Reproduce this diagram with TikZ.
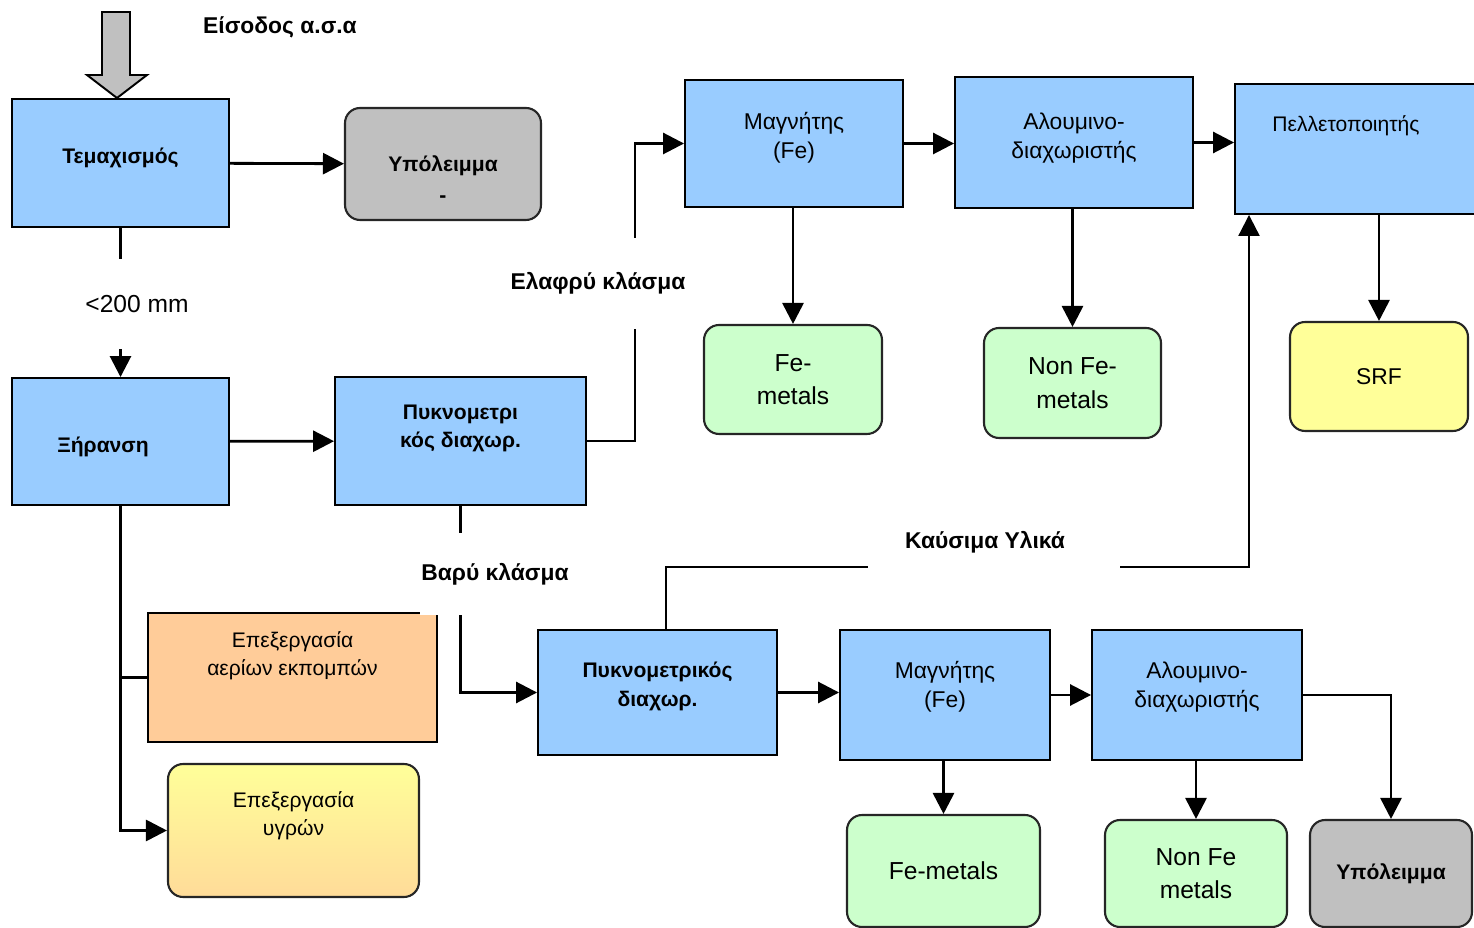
\documentclass[tikz,border=0pt]{standalone}
\usepackage{fontspec}
\setmainfont{Liberation Sans}
\usetikzlibrary{arrows.meta}

\definecolor{procblue}{HTML}{99CCFF}
\definecolor{restgray}{HTML}{C0C0C0}
\definecolor{metalgreen}{HTML}{CCFFCC}
\definecolor{srfyellow}{HTML}{FFFF99}
\definecolor{gasorange}{HTML}{FFCC99}

\begin{document}
\begin{tikzpicture}[x=0.02cm, y=-0.02cm,
	procbox/.style={rectangle, draw=black, line width=1.1pt, fill=procblue, align=center, font=\fontsize{13}{16.5}\selectfont},
	endbox/.style={rectangle, rounded corners=0.3cm, draw=black!85, line width=1.2pt, align=center, font=\fontsize{14}{19}\selectfont},
	flow/.style={line width=1.6pt, -{Triangle[length=0.42cm, width=0.42cm]}},
	branch/.style={line width=1.6pt},
	flowlabel/.style={fill=white, inner xsep=1pt, font=\bfseries\fontsize{13}{15}\selectfont}]
	\useasboundingbox (0,0) rectangle (1474,928);
	% input
	\draw[line width=1.1pt, fill=restgray] (102,12) -- (130,12) -- (130,75) -- (147,75) -- (117,98) -- (87,75) -- (102,75) -- cycle;
	% first line
	\node (temax)  at ( 120.5, 163)   [procbox, minimum width=4.34cm, minimum height=2.56cm, text depth=0.31cm, font=\bfseries\fontsize{12}{15}\selectfont] {Τεμαχισμός};
	\node (ypol1)  at ( 443,   164)   [endbox, fill=restgray, minimum width=3.92cm, minimum height=2.24cm, font=\bfseries\fontsize{12}{14.4}\selectfont] {~\\[12pt]Υπόλειμμα\\[3pt]-};
	\node (xir)    at ( 120.5, 441.5) [procbox, minimum width=4.34cm, minimum height=2.54cm, text height=0.52cm, font=\bfseries\fontsize{12}{15}\selectfont] {Ξήρανση\hspace*{0.7cm}};
	\node (pykn1)  at ( 460.5, 441)   [procbox, minimum width=5.02cm, minimum height=2.56cm, text depth=0.59cm, font=\bfseries\fontsize{12}{16}\selectfont] {Πυκνομετρι\\κός διαχωρ.};
	\node (magn1)  at ( 794,   143.5) [procbox, minimum width=4.36cm, minimum height=2.54cm, text depth=0.31cm] {Μαγνήτης\\(Fe)};
	\node (alum1)  at (1074,   142.5) [procbox, minimum width=4.76cm, minimum height=2.62cm, text depth=0.27cm] {Αλουμινο-\\διαχωριστής};
	\node (pellet) at (1357,   149)   [procbox, minimum width=4.88cm, minimum height=2.60cm, text depth=1.0cm, font=\fontsize{12}{15}\selectfont] {Πελλετοποιητής\hspace*{0.44cm}};
	\node (fe1)    at ( 793,   379.5) [endbox, fill=metalgreen, minimum width=3.56cm, minimum height=2.18cm] {Fe-\\metals};
	\node (nonfe1) at (1072.5, 383)   [endbox, fill=metalgreen, minimum width=3.54cm, minimum height=2.20cm] {Non Fe-\\metals};
	\node (srf)    at (1379,   376.5) [endbox, fill=srfyellow, minimum width=3.56cm, minimum height=2.18cm, font=\fontsize{13}{16}\selectfont] {SRF};
	% second line
	\node (pykn2)  at ( 657.5, 692.5) [procbox, minimum width=4.78cm, minimum height=2.50cm, text depth=0.33cm, font=\bfseries\fontsize{12}{16}\selectfont] {Πυκνομετρικός\\διαχωρ.};
	\node (magn2)  at ( 945,   695)   [procbox, minimum width=4.20cm, minimum height=2.60cm, text depth=0.43cm] {Μαγνήτης\\(Fe)};
	\node (alum2)  at (1197,   695)   [procbox, minimum width=4.20cm, minimum height=2.60cm, text depth=0.43cm] {Αλουμινο-\\διαχωριστής};
	\node (fe2)    at ( 943.5, 871)   [endbox, fill=metalgreen, minimum width=3.86cm, minimum height=2.24cm] {Fe-metals};
	\node (nonfe2) at (1196,   873.5) [endbox, fill=metalgreen, minimum width=3.64cm, minimum height=2.14cm] {Non Fe\\metals};
	\node (ypol2)  at (1391,   873.5) [endbox, fill=restgray, minimum width=3.24cm, minimum height=2.14cm, font=\bfseries\fontsize{12}{14.4}\selectfont] {Υπόλειμμα};
	% treatment
	\node (epex)   at ( 292.5, 677.5) [rectangle, draw=black, line width=1.1pt, fill=gasorange, minimum width=5.78cm, minimum height=2.58cm, align=center, text depth=0.97cm, font=\fontsize{12}{16}\selectfont] {Επεξεργασία\\αερίων εκπομπών};
	\node (ygron)  at ( 293.5, 830.5) [endbox, top color=srfyellow, bottom color=gasorange!70!srfyellow, minimum width=5.02cm, minimum height=2.66cm, text depth=0.69cm, font=\fontsize{12}{16}\selectfont] {Επεξεργασία\\υγρών};
	\coordinate (fuel) at (1249,567);

	\draw[flow] (temax) -- (ypol1);
	\draw[flow] (temax) -- (xir);
	\draw[flow] (xir) -- (pykn1);
	\draw[flow] (pykn1.east) -- ++(48,0) |- (magn1.west);
	\draw[flow] (magn1.east) -- (magn1.east -| alum1.west);
	\draw[flow] (alum1.east) -- (alum1.east -| pellet.west);
	\draw[flow] (fe1.north |- magn1.south) -- (fe1.north);
	\draw[flow] (nonfe1.north |- alum1.south) -- (nonfe1.north);
	\draw[flow] (srf.north |- pellet.south) -- (srf.north);
	\draw[flow] (pykn1.south) |- (pykn2.west);
	\draw[flow, line width=1.2pt] ([xshift=0.17cm]pykn2.north) |- (fuel) -- (fuel |- pellet.south);
	\draw[flow] (pykn2.east) -- (pykn2.east -| magn2.west);
	\draw[flow] (magn2.east) -- (magn2.east -| alum2.west);
	\draw[flow] (fe2.north |- magn2.south) -- (fe2.north);
	\draw[flow] (nonfe2.north |- alum2.south) -- (nonfe2.north);
	\draw[flow] (alum2.east) -| (ypol2.north);
	\draw[flow] (xir.south) |- (ygron.west);
	\draw[branch] (xir.south |- epex.west) -- (epex.west);

	% labels
	\node (inlabel)    at ( 280,  27)   [flowlabel] {Είσοδος α.σ.α};
	\node (sizelabel)  at ( 137, 304)   [flowlabel, inner ysep=0.72cm, font=\fontsize{14}{16}\selectfont] {<200 mm};
	\node (lightlabel) at ( 598, 283.5) [flowlabel, inner ysep=0.7cm] {Ελαφρύ κλάσμα};
	\node (heavylabel) at ( 495, 574)   [flowlabel, inner ysep=0.6cm] {Βαρύ κλάσμα};
	\node (fuellabel)  at ( 994, 549)   [flowlabel, anchor=base, inner xsep=0pt, text depth=0.4cm, minimum width=5.04cm] {Καύσιμα Υλικά\hspace*{0.36cm}};
\end{tikzpicture}
\end{document}
